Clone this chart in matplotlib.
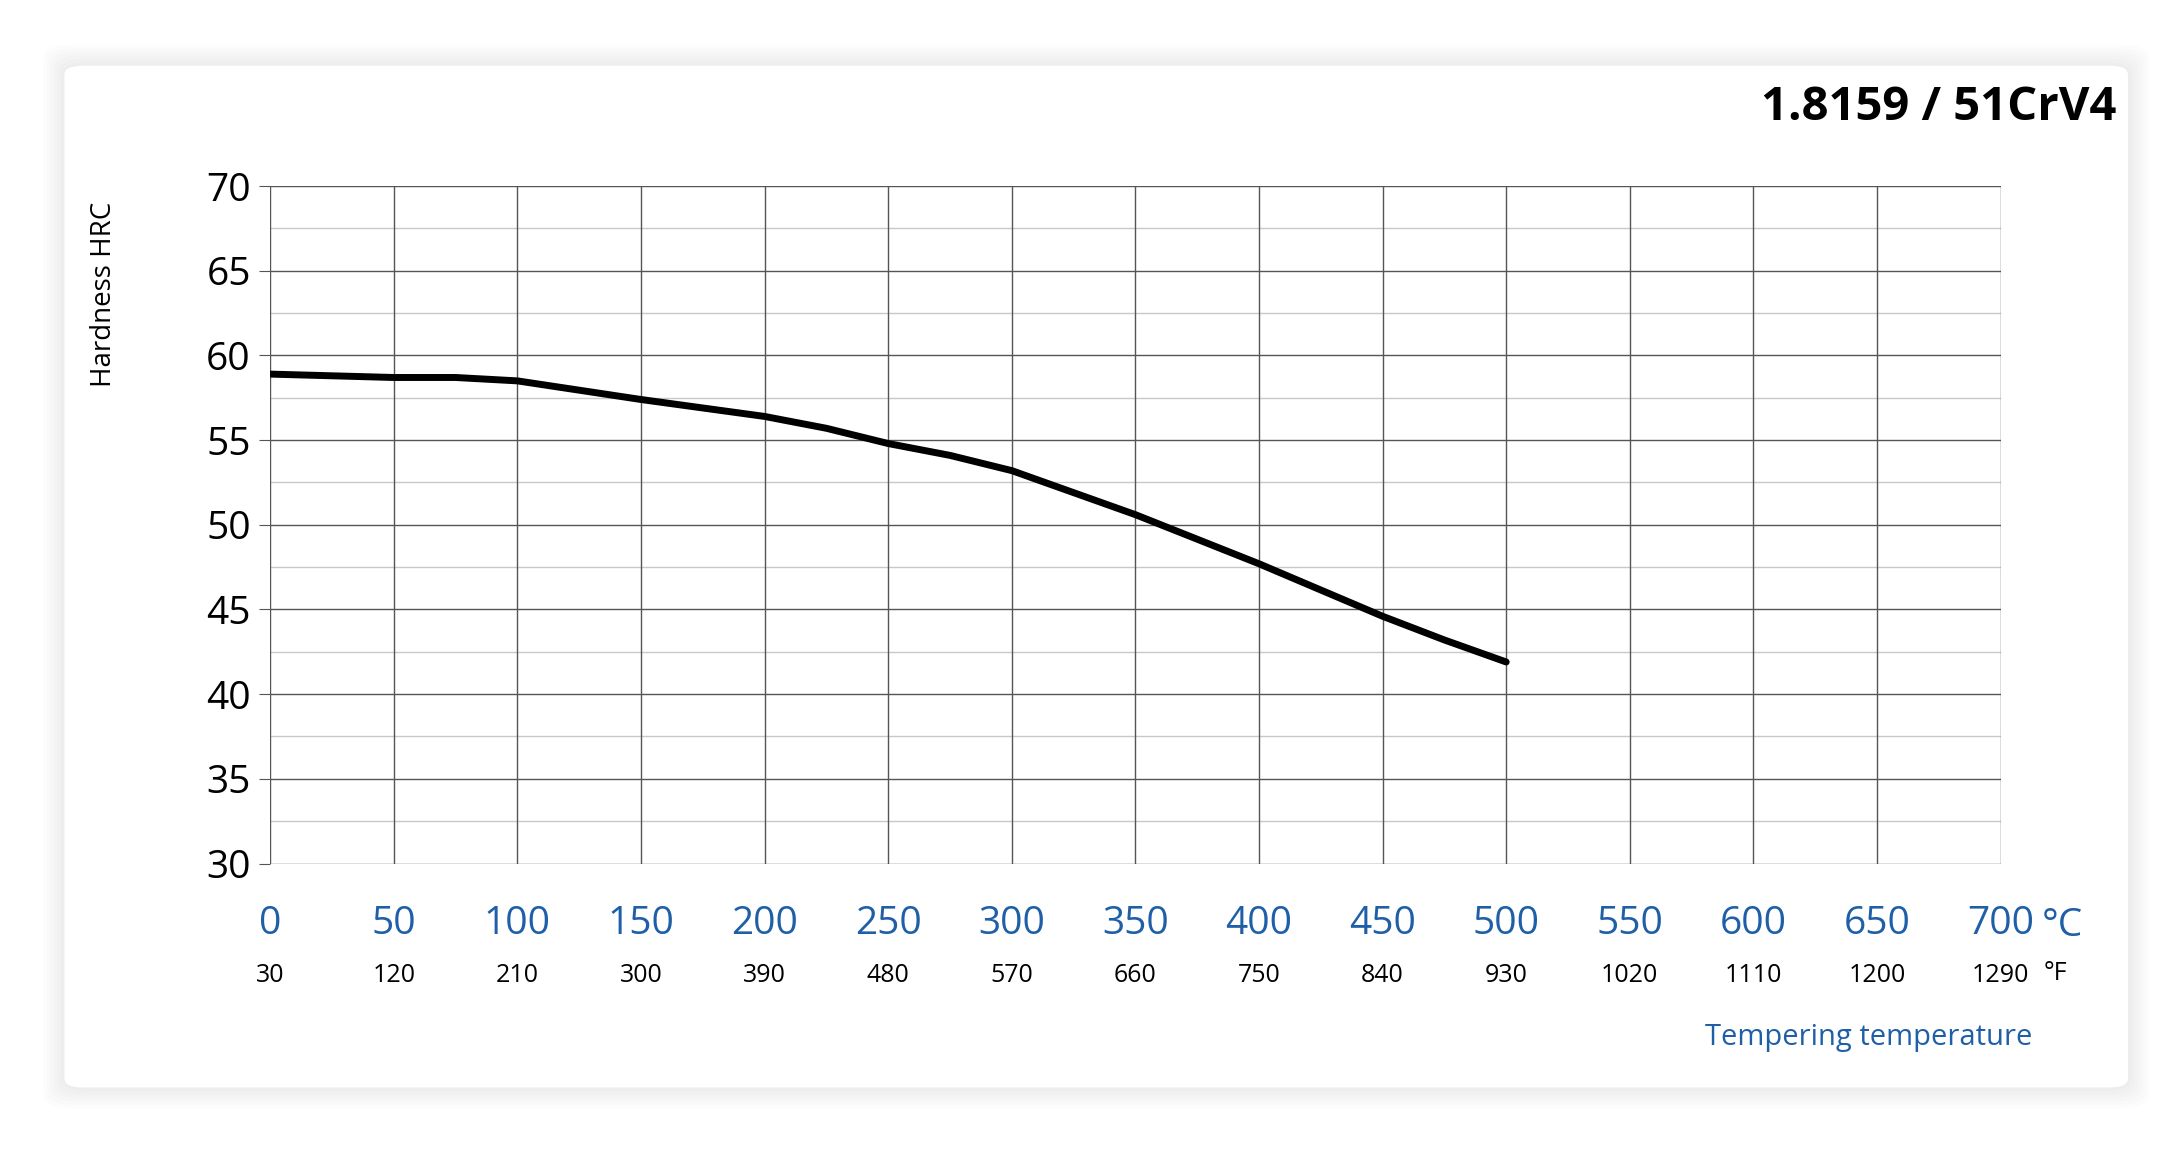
import matplotlib.pyplot as plt
from matplotlib.patches import FancyBboxPatch
import numpy as np

temp_c = [0, 50, 75, 100, 150, 200, 225, 250, 275, 300, 350, 400, 450, 475, 500]
hardness = [58.9, 58.7, 58.7, 58.5, 57.4, 56.4, 55.7, 54.8, 54.1, 53.2, 50.6, 47.7, 44.6, 43.2, 41.9]
c_ticks = list(range(0, 701, 50))
f_labels = ["30", "120", "210", "300", "390", "480", "570", "660", "750", "840",
            "930", "1020", "1110", "1200", "1290"]
y_ticks = list(range(30, 71, 5))

plt.rcParams['font.family'] = ['Open Sans', 'DejaVu Sans']
blue = "#1f5fa8"

fig = plt.figure(figsize=(21.84, 11.56), dpi=100)
W, H = 1560, 826
# card with soft shadow
for i in range(6):
    d = (6 - i) * 2.5
    fig.patches.append(FancyBboxPatch((46/W - d/W, 1-777/H - d/H), 1474/W + 2*d/W, 730/H + 2*d/H,
                                      boxstyle="round,pad=0,rounding_size=0.012",
                                      transform=fig.transFigure, fc="black", ec="none", alpha=0.012, zorder=0))
fig.patches.append(FancyBboxPatch((46/W, 1-777/H), 1474/W, 730/H, boxstyle="round,pad=0,rounding_size=0.008",
                                  transform=fig.transFigure, fc="white", ec="none", zorder=1))

ax = fig.add_axes([193/W, 1-617/H, (1429-193)/W, (617-133)/H])
ax.set_zorder(2)
ax.set_xlim(0, 700)
ax.set_ylim(30, 70)
for y in np.arange(32.5, 70, 5):
    ax.axhline(y, color="#c8c8c8", lw=1.0, zorder=1)
for y in y_ticks:
    ax.axhline(y, color="#555555", lw=1.0, zorder=1)
for x in c_ticks:
    ax.axvline(x, color="#555555", lw=1.0, zorder=1)
for s in ax.spines.values():
    s.set_visible(False)

ax.plot(temp_c, hardness, color="black", lw=5, solid_capstyle="round", solid_joinstyle="round", zorder=3)

ax.set_yticks(y_ticks)
ax.set_yticklabels([str(v) for v in y_ticks], fontsize=28)
ax.tick_params(axis="y", length=8, color="#555555", pad=6)
ax.set_xticks(c_ticks)
ax.set_xticklabels([str(v) for v in c_ticks], fontsize=28, color=blue)
ax.tick_params(axis="x", length=0, pad=30)

for x, f in zip(c_ticks, f_labels):
    ax.text(x, -0.165, f, transform=ax.get_xaxis_transform(), ha="center", va="center", fontsize=18)
ax.text(725, -0.092, "°C", transform=ax.get_xaxis_transform(), ha="center", va="center", fontsize=28, color=blue)
ax.text(722, -0.163, "°F", transform=ax.get_xaxis_transform(), ha="center", va="center", fontsize=18)

ax.set_ylabel("Hardness HRC", fontsize=20)
ax.yaxis.set_label_coords(-0.088, 0.84)
fig.text(1452/W, 1-741/H, "Tempering temperature", ha="right", va="center", fontsize=21, color=blue)
fig.text(1512/W, 1-77/H, "1.8159 / 51CrV4", ha="right", va="center", fontsize=34, fontweight="bold")

fig.savefig("out.png", dpi=100)
